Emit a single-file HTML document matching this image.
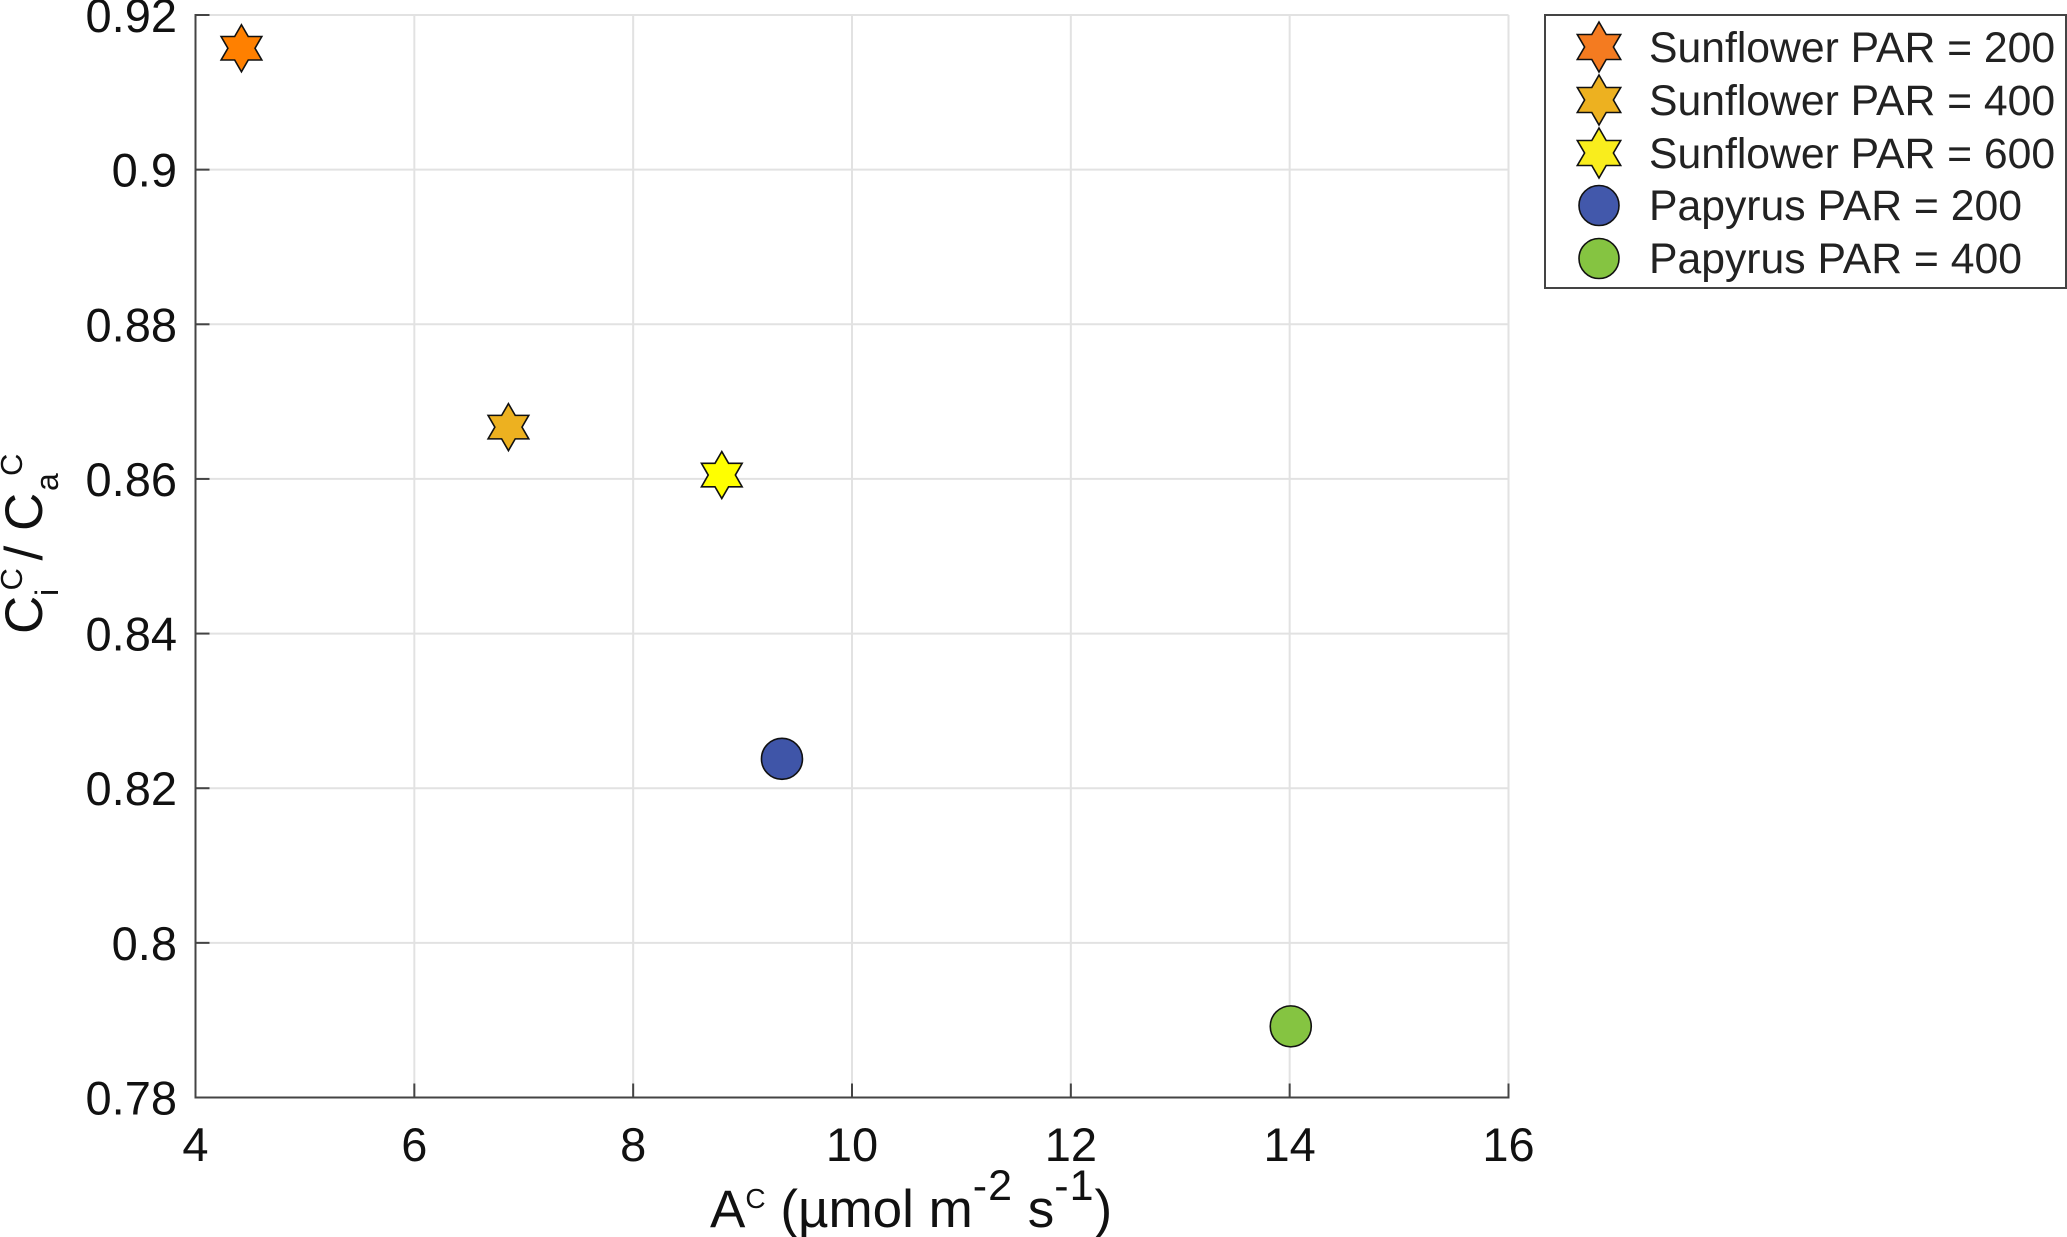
<!DOCTYPE html>
<html lang="en">
<head>
<meta charset="utf-8">
<title>Ci/Ca versus A chart</title>
<style>
html,body{margin:0;padding:0;background:#fff;}
svg{display:block;font-family:"Liberation Sans",Arial,sans-serif;}
</style>
</head>
<body>
<svg id="chart" xmlns="http://www.w3.org/2000/svg" width="2067" height="1237" viewBox="0 0 2067 1237">
  <rect x="0" y="0" width="2067" height="1237" fill="#fff"/>
  <g id="grid"></g>
  <g id="axes"></g>
  <g id="marks"></g>

  <text x="710" y="1227" font-size="53" fill="#111">A<tspan font-size="28" dy="-19">C</tspan><tspan dy="19"> (µmol m</tspan><tspan font-size="43" dy="-27" letter-spacing="1">-2</tspan><tspan dy="27"> s</tspan><tspan font-size="43" dy="-27" letter-spacing="1">-1</tspan><tspan dy="27">)</tspan></text>

  <g transform="translate(42 632) rotate(-90)">
    <text x="-2" y="0" font-size="53" fill="#111">C</text>
    <text x="36" y="16" font-size="32" fill="#111">i</text>
    <text x="41.5" y="-20" font-size="31" fill="#111">C</text>
    <text x="71.5" y="0" font-size="53" fill="#111">/</text>
    <text x="101" y="0" font-size="53" fill="#111">C</text>
    <text x="141" y="16" font-size="32" fill="#111">a</text>
    <text x="156" y="-20" font-size="31" fill="#111">C</text>
  </g>

  <g id="legend">
    <rect x="1545" y="15" width="521" height="273" fill="#fff" stroke="#444" stroke-width="2"/>
    <g font-size="42.7" fill="#222">
      <text x="1649" y="62">Sunflower PAR = 200</text>
      <text x="1649" y="115">Sunflower PAR = 400</text>
      <text x="1649" y="168">Sunflower PAR = 600</text>
      <text x="1649" y="220">Papyrus PAR = 200</text>
      <text x="1649" y="273">Papyrus PAR = 400</text>
    </g>
    <polygon points="1599,22 1606.2,34.5 1620.7,34.5 1613.4,47 1620.7,59.5 1606.2,59.5 1599,72 1591.8,59.5 1577.3,59.5 1584.6,47 1577.3,34.5 1591.8,34.5" fill="#f47b20" stroke="#111" stroke-width="1.6"/>
    <polygon points="1599,75 1606.2,87.5 1620.7,87.5 1613.4,100 1620.7,112.5 1606.2,112.5 1599,125 1591.8,112.5 1577.3,112.5 1584.6,100 1577.3,87.5 1591.8,87.5" fill="#edb120" stroke="#111" stroke-width="1.6"/>
    <polygon points="1599,128 1606.2,140.5 1620.7,140.5 1613.4,153 1620.7,165.5 1606.2,165.5 1599,178 1591.8,165.5 1577.3,165.5 1584.6,153 1577.3,140.5 1591.8,140.5" fill="#f9ed1d" stroke="#111" stroke-width="1.6"/>
    <circle cx="1599" cy="205.5" r="20" fill="#4258ab" stroke="#111" stroke-width="1.6"/>
    <circle cx="1599" cy="258.5" r="20" fill="#85c441" stroke="#111" stroke-width="1.6"/>
  </g>
</svg>
<script>
// Chart data
var xTicks = [4, 6, 8, 10, 12, 14, 16];
var xTickLabels = ['4', '6', '8', '10', '12', '14', '16'];
var yTicks = [0.78, 0.8, 0.82, 0.84, 0.86, 0.88, 0.9, 0.92];
var yTickLabels = ['0.78', '0.8', '0.82', '0.84', '0.86', '0.88', '0.9', '0.92'];
var seriesNames = ['sunflower-200', 'sunflower-400', 'sunflower-600', 'papyrus-200', 'papyrus-400'];
var assimilation = [4.42, 6.86, 8.81, 9.36, 14.01];
var ciCaRatio = [0.9157, 0.8667, 0.8605, 0.8238, 0.7892];
var markerKinds = ['star', 'star', 'star', 'circle', 'circle'];
var markerFills = ['#ff8000', '#edb120', '#ffff00', '#3f55a8', '#85c441'];

var NS = 'http://www.w3.org/2000/svg';
var plotLeft = 195.5, plotRight = 1508.5, plotTop = 15, plotBottom = 1097.5;
var xMin = 4, xMax = 16, yMin = 0.78, yMax = 0.92;

function xScale(v) { return plotLeft + (v - xMin) / (xMax - xMin) * (plotRight - plotLeft); }
function yScale(v) { return plotBottom - (v - yMin) / (yMax - yMin) * (plotBottom - plotTop); }

function make(tag, attrs) {
  var el = document.createElementNS(NS, tag);
  for (var k in attrs) { el.setAttribute(k, attrs[k]); }
  return el;
}
function starPoints(cx, cy, R) {
  var r = R / Math.sqrt(3), pts = [];
  for (var i = 0; i < 12; i++) {
    var a = -Math.PI / 2 + i * Math.PI / 6;
    var d = i % 2 === 0 ? R : r;
    pts.push((cx + d * Math.cos(a)).toFixed(2) + ',' + (cy + d * Math.sin(a)).toFixed(2));
  }
  return pts.join(' ');
}

var grid = document.getElementById('grid');
var axes = document.getElementById('axes');
var marks = document.getElementById('marks');

xTicks.forEach(function (t, i) {
  var x = xScale(t);
  var g = make('line', { x1: x, x2: x, y1: plotTop, y2: plotBottom, stroke: '#e2e2e2', 'stroke-width': 2 });
  
  
  grid.appendChild(g);
  var tick = make('line', { x1: x, x2: x, y1: plotBottom, y2: plotBottom - 14, stroke: '#444', 'stroke-width': 2 });
  
  
  axes.appendChild(tick);
  var label = make('text', { x: x, y: 1161, 'text-anchor': 'middle', 'font-size': 47, fill: '#111' });
  label.textContent = xTickLabels[i];
  
  
  axes.appendChild(label);
});

yTicks.forEach(function (t, i) {
  var y = yScale(t);
  var g = make('line', { x1: plotLeft, x2: plotRight, y1: y, y2: y, stroke: '#e2e2e2', 'stroke-width': 2 });
  
  
  grid.appendChild(g);
  var tick = make('line', { x1: plotLeft, x2: plotLeft + 14, y1: y, y2: y, stroke: '#444', 'stroke-width': 2 });
  
  
  axes.appendChild(tick);
  var label = make('text', { x: 177, y: y + 17, 'text-anchor': 'end', 'font-size': 47, fill: '#111' });
  label.textContent = yTickLabels[i];
  
  
  axes.appendChild(label);
});

var xAxisLine = make('line', { x1: plotLeft - 1, x2: plotRight + 1, y1: plotBottom, y2: plotBottom, stroke: '#444', 'stroke-width': 2 });


axes.appendChild(xAxisLine);
var yAxisLine = make('line', { x1: plotLeft, x2: plotLeft, y1: plotTop - 1, y2: plotBottom + 1, stroke: '#444', 'stroke-width': 2 });


axes.appendChild(yAxisLine);

assimilation.forEach(function (v, i) {
  var cx = xScale(v), cy = yScale(ciCaRatio[i]), el;
  if (markerKinds[i] === 'star') {
    el = make('polygon', { points: starPoints(cx, cy, 23.5), fill: markerFills[i], stroke: '#111', 'stroke-width': 1.6 });
  } else {
    el = make('circle', { cx: cx, cy: cy, r: 20.5, fill: markerFills[i], stroke: '#111', 'stroke-width': 1.6 });
  }
  
  
  marks.appendChild(el);
});
</script>
</body>
</html>
